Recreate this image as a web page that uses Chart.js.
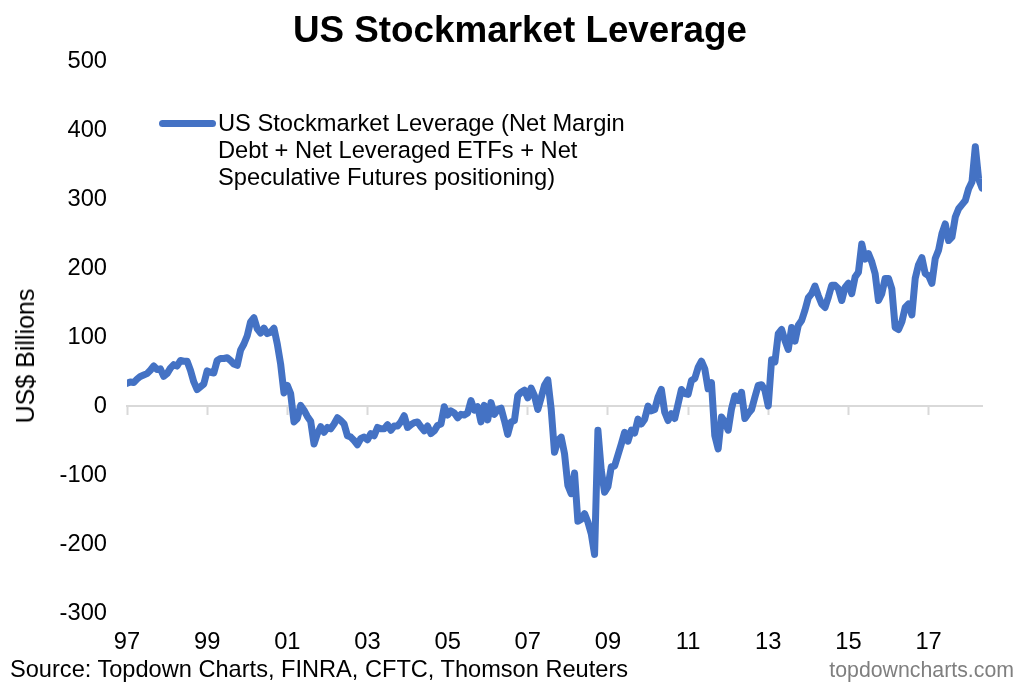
<!DOCTYPE html>
<html>
<head>
<meta charset="utf-8">
<title>US Stockmarket Leverage</title>
<script src="https://cdn.jsdelivr.net/npm/chart.js@4"></script>
<style>
  html, body { margin: 0; padding: 0; background: #fff; overflow: hidden; width: 1024px; height: 691px; }
  body { position: relative; font-family: "Liberation Sans", Arial, sans-serif; color: #000; }
  canvas { position: absolute; left: 0; top: 0; }
  .note { position: absolute; white-space: nowrap; }
  #source { left: 10px; top: 656px; font-size: 23.6px; line-height: 26px; }
  #site { right: 10px; top: 657px; font-size: 21.3px; line-height: 26px; color: #7f7f7f; }
  #yTitle { left: 25px; top: 356px; font-size: 25px; line-height: 26px; transform: translate(-50%, -50%) rotate(-90deg); }
  #legendLine { position: absolute; left: 159px; top: 119.5px; width: 57px; height: 7px; border-radius: 3.5px; background: #4472c4; }
  #legendText { position: absolute; left: 218px; top: 110px; font-size: 23.7px; line-height: 27px; white-space: nowrap; }
</style>
</head>
<body>
<canvas id="myLine" width="1024" height="691" style="width:1024px;height:691px"></canvas>
<div id="yTitle" class="note"></div>
<div id="legendLine"></div>
<div id="legendText"></div>
<div id="source" class="note"></div>
<div id="site" class="note"></div>
<script>
const chartTitle = 'US Stockmarket Leverage';
const seriesName = ['US Stockmarket Leverage (Net Margin', 'Debt + Net Leveraged ETFs + Net', 'Speculative Futures positioning)'];
const yTitle = 'US$ Billions';
const sourceText = 'Source: Topdown Charts, FINRA, CFTC, Thomson Reuters';
const siteText = 'topdowncharts.com';
const yearLabels = ['97', '99', '01', '03', '05', '07', '09', '11', '13', '15', '17'];

// monthly values from Jan 1997
const leverage = [
  33, 35, 34, 39, 43, 45, 47, 52, 58, 53, 54, 43,
  47, 55, 60, 58, 66, 65, 65, 52, 35, 24, 28, 32,
  51, 49, 48, 66, 69, 69, 70, 66, 61, 59, 81, 90,
  102, 122, 128, 112, 106, 113, 105, 107, 113, 90, 61, 19,
  30, 18, -23, -18, 1, -6, -15, -22, -55, -40, -30, -38,
  -31, -33, -26, -17, -21, -26, -43, -45, -50, -56, -47, -45,
  -49, -40, -43, -31, -33, -33, -27, -35, -29, -29, -23, -14,
  -31, -27, -24, -23, -30, -36, -29, -40, -36, -28, -26, -1,
  -13, -7, -10, -17, -12, -13, -10, 8, -6, -1, -23, 1,
  -20, 5, -12, -5, -3, -21, -41, -23, -21, 15, 20, 23,
  12, 26, 15, -5, 12, 30, 38, -4, -67, -50, -45, -69,
  -115, -127, -97, -167, -164, -156, -168, -185, -215, -35, -93, -125,
  -117, -88, -87, -71, -55, -38, -51, -35, -39, -19, -26, -19,
  0, -7, -5, 13, 24, -9, -21, -11, -18, 3, 24, 18,
  17, 37, 40, 56, 65, 54, 25, 34, -43, -62, -16, -23,
  -35, -4, 15, 8, 20, -18, -11, -5, 13, 30, 31, 23,
  0, 67, 64, 105, 111, 95, 82, 114, 94, 117, 124, 139,
  157, 163, 174, 160, 148, 143, 158, 175, 175, 170, 153, 172,
  178, 163, 187, 194, 235, 213, 221, 209, 192, 153, 163, 185,
  185, 170, 114, 111, 122, 143, 148, 132, 185, 205, 215, 192,
  189, 178, 214, 226, 250, 264, 240, 245, 274, 286, 292, 298,
  315, 325, 376, 329, 316
];

const lineColor = '#4472c4';
const axisColor = '#d9d9d9';
const tickFont = { family: '"Liberation Sans", Arial, sans-serif', size: 23.7 };

function init () {
  document.getElementById('yTitle').textContent = yTitle;
  document.getElementById('legendText').innerHTML = seriesName.join('<br>');
  document.getElementById('source').textContent = sourceText;
  document.getElementById('site').textContent = siteText;
  drawChart();
}

function drawChart () {
  const ctx = document.getElementById('myLine');
  const lastMonth = leverage.length - 1;
  new Chart(ctx, {
    type: 'line',
    data: {
      datasets: [{
        label: seriesName.join(' '),
        data: leverage.map(function (v, i) { return { x: i, y: v }; }),
        xAxisID: 'x',
        yAxisID: 'y',
        borderColor: lineColor,
        backgroundColor: lineColor,
        borderWidth: 7,
        borderJoinStyle: 'round',
        borderCapStyle: 'round',
        pointRadius: 0,
        tension: 0
      }]
    },
    options: {
      responsive: false,
      animation: false,
      // left padding also moves the title's centre to where the reference has it
      layout: { padding: { left: 58, right: 42, top: 0, bottom: 0 } },
      plugins: {
        legend: { display: false },
        tooltip: { enabled: false },
        title: {
          display: true,
          text: chartTitle,
          color: '#000',
          font: { family: tickFont.family, size: 36.8, weight: 'bold', lineHeight: 1.2 },
          padding: { top: 10, bottom: 7 }
        }
      },
      scales: {
        // axis line and ticks sit on the zero line
        x: {
          type: 'linear',
          min: 0,
          max: lastMonth,
          position: { y: 0 },
          border: { color: axisColor, width: 2 },
          grid: { drawOnChartArea: false, drawTicks: true, tickLength: 8, tickColor: axisColor, tickWidth: 2 },
          ticks: { display: false, stepSize: 24, includeBounds: false },
          afterFit: function (scale) { scale.height = 0; }
        },
        // year labels along the bottom
        xLabels: {
          type: 'linear',
          axis: 'x',
          min: 0,
          max: lastMonth,
          position: 'bottom',
          border: { display: false },
          grid: { display: false },
          ticks: {
            stepSize: 24,
            includeBounds: false,
            autoSkip: false,
            maxRotation: 0,
            padding: 7,
            color: '#000',
            font: tickFont,
            callback: function (value) { return yearLabels[value / 24]; }
          },
          afterFit: function (scale) { scale.height = 78; }
        },
        y: {
          min: -300,
          max: 500,
          border: { display: false },
          grid: { display: false },
          ticks: { stepSize: 100, padding: 12, color: '#000', font: tickFont },
          afterFit: function (scale) { scale.width = 69; }
        }
      }
    }
  });
}

window.addEventListener('load', init);
</script>
</body>
</html>
